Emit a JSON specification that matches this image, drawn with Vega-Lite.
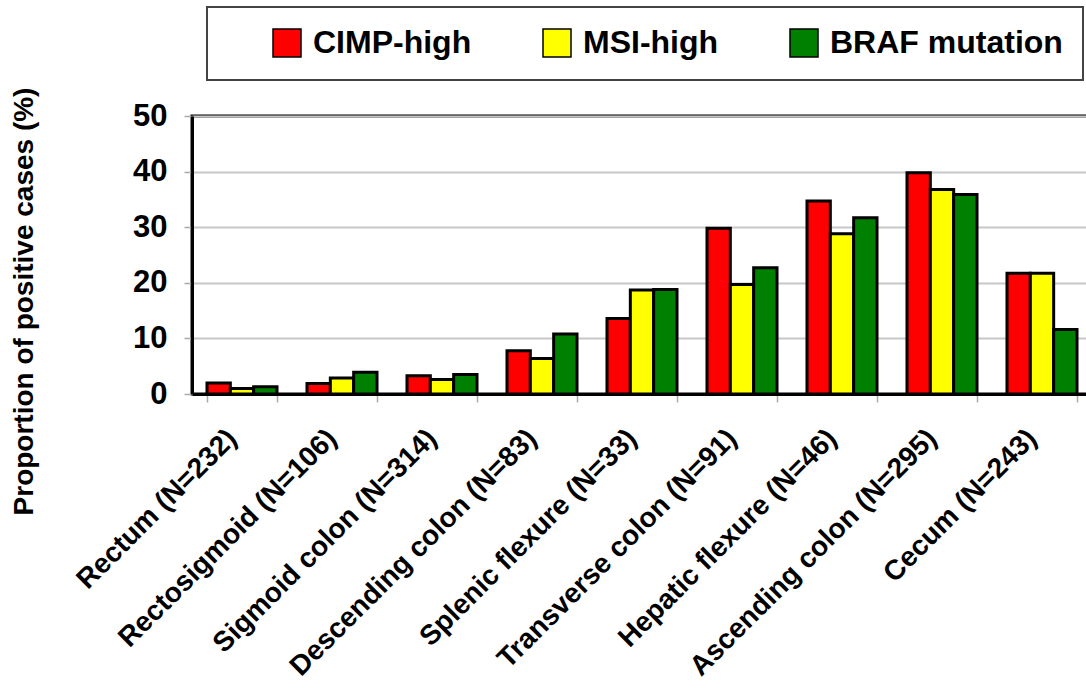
{
  "$schema": "https://vega.github.io/schema/vega-lite/v6.json",
  "width": 900,
  "height": 278,
  "autosize": {"type": "none"},
  "padding": {"left": 192, "top": 116, "right": -6, "bottom": 296},
  "background": "white",
  "config": {
    "font": "Liberation Sans",
    "view": {"stroke": "black", "strokeWidth": 3},
    "legend": {"strokeColor": "#444444", "strokeWidth": 2, "fillColor": "white", "padding": 20}
  },
  "data": {
    "values": [
      {"site": "Rectum (N=232)", "type": "CIMP-high", "value": 2.0},
      {"site": "Rectum (N=232)", "type": "MSI-high", "value": 1.0},
      {"site": "Rectum (N=232)", "type": "BRAF mutation", "value": 1.3},
      {"site": "Rectosigmoid (N=106)", "type": "CIMP-high", "value": 1.9},
      {"site": "Rectosigmoid (N=106)", "type": "MSI-high", "value": 2.9},
      {"site": "Rectosigmoid (N=106)", "type": "BRAF mutation", "value": 3.9},
      {"site": "Sigmoid colon (N=314)", "type": "CIMP-high", "value": 3.3},
      {"site": "Sigmoid colon (N=314)", "type": "MSI-high", "value": 2.6},
      {"site": "Sigmoid colon (N=314)", "type": "BRAF mutation", "value": 3.5},
      {"site": "Descending colon (N=83)", "type": "CIMP-high", "value": 7.8},
      {"site": "Descending colon (N=83)", "type": "MSI-high", "value": 6.4},
      {"site": "Descending colon (N=83)", "type": "BRAF mutation", "value": 10.8},
      {"site": "Splenic flexure (N=33)", "type": "CIMP-high", "value": 13.6},
      {"site": "Splenic flexure (N=33)", "type": "MSI-high", "value": 18.7},
      {"site": "Splenic flexure (N=33)", "type": "BRAF mutation", "value": 18.8},
      {"site": "Transverse colon (N=91)", "type": "CIMP-high", "value": 29.8},
      {"site": "Transverse colon (N=91)", "type": "MSI-high", "value": 19.7},
      {"site": "Transverse colon (N=91)", "type": "BRAF mutation", "value": 22.7},
      {"site": "Hepatic flexure (N=46)", "type": "CIMP-high", "value": 34.7},
      {"site": "Hepatic flexure (N=46)", "type": "MSI-high", "value": 28.8},
      {"site": "Hepatic flexure (N=46)", "type": "BRAF mutation", "value": 31.7},
      {"site": "Ascending colon (N=295)", "type": "CIMP-high", "value": 39.8},
      {"site": "Ascending colon (N=295)", "type": "MSI-high", "value": 36.8},
      {"site": "Ascending colon (N=295)", "type": "BRAF mutation", "value": 35.9},
      {"site": "Cecum (N=243)", "type": "CIMP-high", "value": 21.7},
      {"site": "Cecum (N=243)", "type": "MSI-high", "value": 21.7},
      {"site": "Cecum (N=243)", "type": "BRAF mutation", "value": 11.6}
    ]
  },
  "mark": {"type": "bar", "stroke": "black", "strokeWidth": 3},
  "encoding": {
    "x": {
      "field": "site",
      "type": "nominal",
      "sort": null,
      "scale": {"paddingInner": 0.3, "paddingOuter": 0.15},
      "axis": {
        "title": null,
        "labelAngle": -45,
        "labelFontSize": 28,
        "labelFontWeight": "bold",
        "labelColor": "black",
        "labelLimit": 600,
        "labelPadding": 22,
        "labelOffset": -20,
        "tickBand": "extent",
        "tickColor": "#aaaaaa",
        "tickSize": 8,
        "tickWidth": 1.5,
        "domainColor": "black",
        "domainWidth": 3
      }
    },
    "xOffset": {
      "field": "type",
      "sort": ["CIMP-high", "MSI-high", "BRAF mutation"],
      "scale": {"paddingInner": 0, "paddingOuter": 0}
    },
    "y": {
      "field": "value",
      "type": "quantitative",
      "scale": {"domain": [0, 50], "nice": false},
      "axis": {
        "title": "Proportion of positive cases (%)",
        "titleFontSize": 28,
        "titleFontWeight": "bold",
        "titleColor": "black",
        "titleX": -154,
        "titleY": 185,
        "titleAlign": "center",
        "titleAngle": -90,
        "titleBaseline": "bottom",
        "values": [0, 10, 20, 30, 40, 50],
        "labelFontSize": 31,
        "labelFontWeight": "bold",
        "labelColor": "black",
        "labelPadding": 17,
        "tickColor": "#aaaaaa",
        "tickSize": 8,
        "tickWidth": 1.5,
        "grid": true,
        "gridColor": "#c8c8c8",
        "gridWidth": 2,
        "domainColor": "black",
        "domainWidth": 3
      }
    },
    "color": {
      "field": "type",
      "type": "nominal",
      "scale": {
        "domain": ["CIMP-high", "MSI-high", "BRAF mutation"],
        "range": ["#FF0000", "#FFFF00", "#008000"]
      },
      "legend": {
        "orient": "none",
        "legendX": 15,
        "legendY": -109,
        "direction": "horizontal",
        "title": "\u00a0",
        "titleOrient": "left",
        "titleFontSize": 10,
        "titlePadding": 44,
        "symbolType": "square",
        "symbolSize": 784,
        "symbolStrokeColor": "black",
        "symbolStrokeWidth": 1.5,
        "symbolOpacity": 1,
        "labelFontSize": 32,
        "labelFontWeight": "bold",
        "labelColor": "black",
        "labelOffset": 10,
        "labelLimit": 600,
        "columnPadding": 68
      }
    }
  }
}
